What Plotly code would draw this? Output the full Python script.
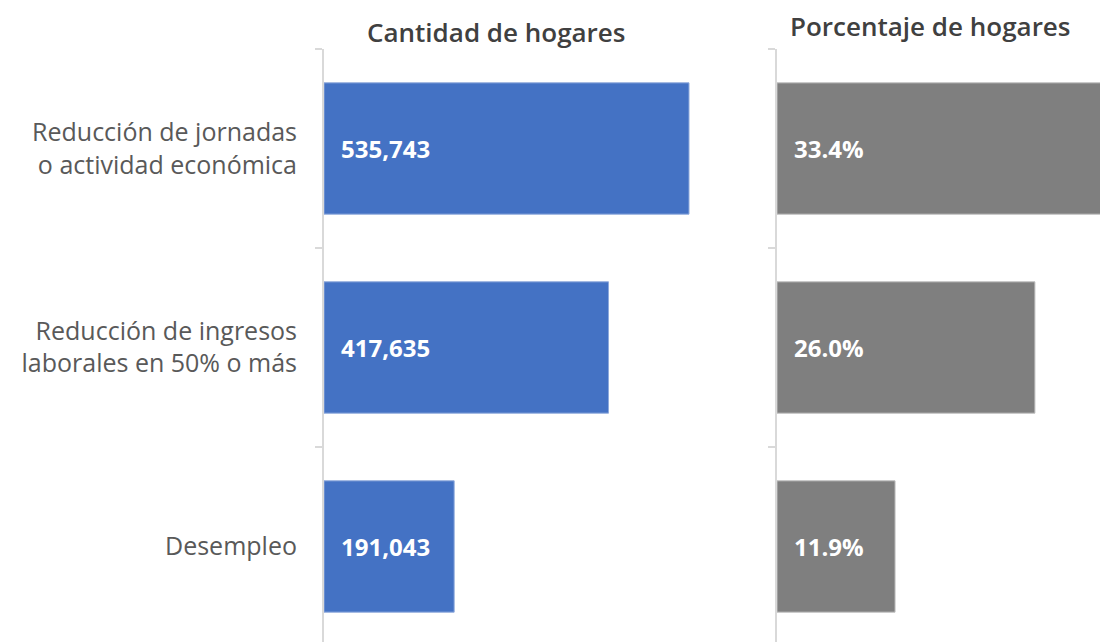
import plotly.graph_objects as go

# Data
categorias = [
    "Reducción de jornadas<br>o actividad económica",
    "Reducción de ingresos<br>laborales en 50% o más",
    "Desempleo",
]
cantidad_hogares = [535743, 417635, 191043]
porcentaje_hogares = [33.4, 26.0, 11.9]

AZUL = "#4472C4"
GRIS = "#7F7F7F"
EJE = "#D9D9D9"
FUENTE = "Open Sans, Noto Sans, sans-serif"

fig = go.Figure()

fig.add_trace(go.Bar(
    y=categorias, x=cantidad_hogares, orientation="h",
    marker=dict(color=AZUL, line=dict(color="#8FAADC", width=1)),
    width=0.66, xaxis="x", yaxis="y", showlegend=False,
    hoverinfo="x+y",
))
fig.add_trace(go.Bar(
    y=categorias, x=porcentaje_hogares, orientation="h",
    marker=dict(color=GRIS, line=dict(color="#BFBFBF", width=1)),
    width=0.66, xaxis="x2", yaxis="y2", showlegend=False,
    hoverinfo="x+y",
))

# Data labels inside the bars, near the base
annotations = []
for cat, v in zip(categorias, cantidad_hogares):
    annotations.append(dict(
        x=0, y=cat, xref="x", yref="y", text=f"<b>{v:,}</b>",
        showarrow=False, xanchor="left", xshift=15,
        font=dict(family=FUENTE, size=24, color="white"),
    ))
for cat, v in zip(categorias, porcentaje_hogares):
    annotations.append(dict(
        x=0, y=cat, xref="x2", yref="y2", text=f"<b>{v:.1f}%</b>",
        showarrow=False, xanchor="left", xshift=15,
        font=dict(family=FUENTE, size=24, color="white"),
    ))

# Panel titles
annotations.append(dict(
    x=496 / 1100, y=1.0, xref="paper", yref="paper", xanchor="center",
    yanchor="bottom", text="Cantidad de hogares", showarrow=False, yshift=-3,
    font=dict(family=FUENTE, size=26, color="#404040", weight=600),
))
annotations.append(dict(
    x=930 / 1100, y=1.0, xref="paper", yref="paper", xanchor="center",
    yanchor="bottom", text="Porcentaje de hogares", showarrow=False, yshift=3,
    font=dict(family=FUENTE, size=26, color="#404040", weight=600),
))

eje_y = dict(
    type="category", range=[2.48, -0.5], showline=True, linecolor=EJE,
    linewidth=2, ticks="outside", tickson="boundaries", ticklen=7,
    tickcolor=EJE, tickwidth=2, showgrid=False, zeroline=False,
)

fig.update_layout(
    width=1100, height=642,
    margin=dict(l=0, r=0, t=49, b=0),
    paper_bgcolor="white", plot_bgcolor="white",
    font=dict(family=FUENTE, color="#595959"),
    xaxis=dict(domain=[324 / 1100, 760 / 1100], range=[0, 535743 * 436 / 365],
               visible=False, anchor="y"),
    xaxis2=dict(domain=[777 / 1100, 1.0], range=[0, 323 / 9.92],
                visible=False, anchor="y2"),
    yaxis=dict(**eje_y, anchor="x", showticklabels=True,
               tickfont=dict(family=FUENTE, size=25, color="#595959"),
               ticklabelstandoff=20),
    yaxis2=dict(**eje_y, anchor="x2", showticklabels=False),
    annotations=annotations,
    bargap=0.34,
)

fig.write_html("out.html", config={"displayModeBar": False},
               post_script="document.body.style.margin='0';")
